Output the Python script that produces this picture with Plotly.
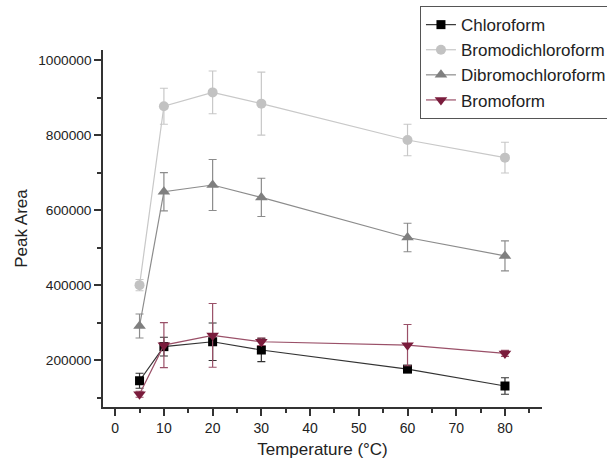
import plotly.graph_objects as go

temperature = [5, 10, 20, 30, 60, 80]

series_names = ["Chloroform", "Bromodichloroform", "Dibromochloroform", "Bromoform"]

chloroform = [145000, 236000, 249000, 227000, 176000, 131000]
chloroform_err = [20000, 25000, 50000, 31000, 8000, 22000]

bromodichloroform = [400000, 877000, 914000, 884000, 787000, 740000]
bromodichloroform_err = [15000, 48000, 57000, 84000, 42000, 41000]

dibromochloroform = [291000, 649000, 667000, 634000, 527000, 478000]
dibromochloroform_err = [32000, 51000, 68000, 51000, 38000, 40000]

bromoform = [109000, 240000, 266000, 249000, 240000, 218000]
bromoform_err = [8000, 60000, 85000, 10000, 55000, 8000]

x_ticks = [0, 10, 20, 30, 40, 50, 60, 70, 80]
y_ticks = [200000, 400000, 600000, 800000, 1000000]

colors = ["#000000", "#c2c2c2", "#7f7f7f", "#7a1c3c"]
line_colors = ["#333333", "#c8c8c8", "#8c8c8c", "#9a5068"]
symbols = ["square", "circle", "triangle-up", "triangle-down"]
sizes = [9, 10, 11, 11]

values = [chloroform, bromodichloroform, dibromochloroform, bromoform]
errors = [chloroform_err, bromodichloroform_err, dibromochloroform_err, bromoform_err]

fig = go.Figure()
for name, y, e, c, lc, s, sz in zip(series_names, values, errors, colors, line_colors, symbols, sizes):
    fig.add_trace(go.Scatter(
        x=temperature, y=y, name=name, mode="lines+markers",
        line=dict(color=lc, width=1.2),
        marker=dict(color=c, symbol=s, size=sz, line=dict(width=0)),
        error_y=dict(type="data", array=e, visible=True, color=lc, thickness=1.2, width=4),
    ))

font_family = "Liberation Sans, Arial, sans-serif"

fig.update_layout(
    width=607, height=459,
    margin=dict(l=103, r=65, t=50, b=52, autoexpand=False),
    paper_bgcolor="white", plot_bgcolor="white",
    font=dict(family=font_family, size=14, color="#222222"),
    showlegend=True,
    legend=dict(
        x=0.722, y=1.123, xanchor="left", yanchor="top",
        bordercolor="#555555", borderwidth=1,
        font=dict(size=17, color="#222222"),
        bgcolor="white", tracegroupgap=0,
    ),
    xaxis=dict(
        range=[-2.5, 87.6], tickvals=x_ticks, ticks="outside", ticklen=7, tickwidth=1.5,
        tickcolor="#333333", showline=True, linecolor="#333333", linewidth=1.5,
        showgrid=False, zeroline=False,
        tickfont=dict(size=14, color="#222222"),
        title=dict(text="Temperature (°C)", font=dict(size=17, color="#222222"), standoff=17),
        minor=dict(dtick=5, tick0=0, ticks="outside", ticklen=4, tickwidth=1.5, tickcolor="#333333"),
    ),
    yaxis=dict(
        range=[75000, 1027000], tickvals=y_ticks, tickformat="d", ticks="outside", ticklen=7, tickwidth=1.5,
        tickcolor="#333333", showline=True, linecolor="#333333", linewidth=1.5,
        showgrid=False, zeroline=False,
        tickfont=dict(size=13.7, color="#222222"),
        title=dict(text="Peak Area", font=dict(size=17, color="#222222"), standoff=6),
        minor=dict(dtick=100000, tick0=0, ticks="outside", ticklen=4, tickwidth=1.5, tickcolor="#333333"),
    ),
)

fig.write_html(
    "out.html",
    config={"displayModeBar": False},
    post_script="document.body.style.margin='0';document.body.style.overflow='hidden';",
)
